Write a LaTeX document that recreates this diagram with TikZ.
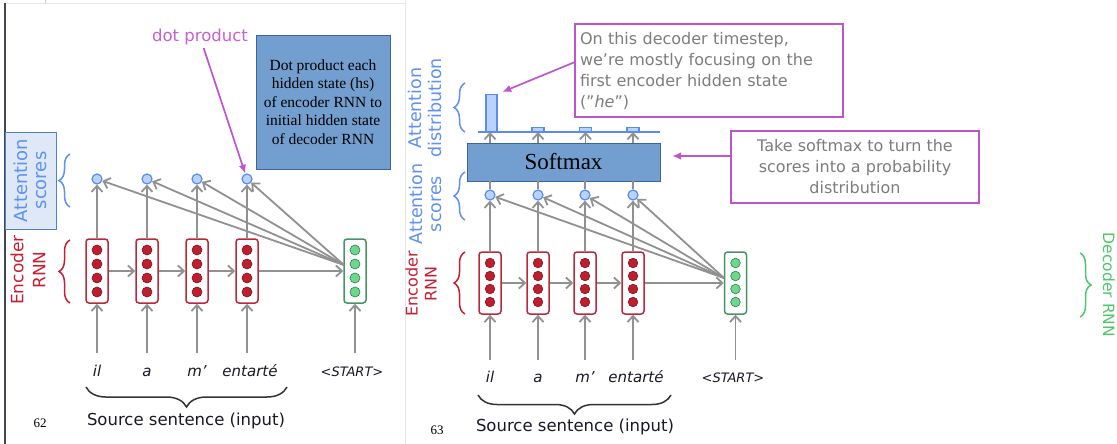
\documentclass[tikz,border=0pt]{standalone}
\usepackage{fontspec}
\setmainfont{Liberation Serif}
\newfontfamily\dvs{DejaVu Sans}
\usetikzlibrary{arrows.meta,decorations.pathreplacing,calc}
\definecolor{cgray}{RGB}{145,145,145}
\definecolor{encred}{RGB}{185,40,60}
\definecolor{dotred}{RGB}{190,30,45}
\definecolor{dotredb}{RGB}{120,20,30}
\definecolor{decgreen}{RGB}{70,150,100}
\definecolor{dotgreen}{RGB}{110,215,140}
\definecolor{dotgreenb}{RGB}{40,130,70}
\definecolor{scblue}{RGB}{90,140,240}
\definecolor{scfill}{RGB}{185,210,255}
\definecolor{boxblue}{RGB}{114,159,207}
\definecolor{boxblueb}{RGB}{60,100,160}
\definecolor{lblfill}{RGB}{222,232,247}
\definecolor{lblborder}{RGB}{80,130,200}
\definecolor{labblue}{RGB}{95,145,240}
\definecolor{labred}{RGB}{200,30,50}
\definecolor{labgreen}{RGB}{75,200,105}
\definecolor{cmag}{RGB}{190,85,205}
\definecolor{magtext}{RGB}{200,95,210}
\definecolor{calltext}{RGB}{125,125,125}
\definecolor{framedark}{RGB}{70,70,80}
\definecolor{framelight}{RGB}{230,230,230}
\definecolor{wordcol}{RGB}{25,25,40}
\tikzset{
  garrow/.style={draw=cgray, line width=1.8pt, -{Straight Barb[length=6pt,width=11pt,line width=1.8pt]}},
  glink/.style={draw=cgray, line width=1.8pt},
  encbox/.style={draw=encred, line width=1.5pt, rounded corners=3pt, fill=white, minimum width=22pt, minimum height=64pt, inner sep=0pt},
  encboxr/.style={encbox, minimum height=62pt},
  decbox/.style={encbox, draw=decgreen},
  decboxr/.style={encboxr, draw=decgreen},
  rdot/.style={fill=dotred, draw=dotredb, line width=0.6pt},
  gdot/.style={fill=dotgreen, draw=dotgreenb, line width=0.6pt},
  score/.style={circle, draw=scblue, fill=scfill, line width=1.2pt, minimum size=10pt, inner sep=0pt},
  word/.style={text=wordcol, font=\dvs\itshape\fontsize{15}{18}\selectfont, text height=11pt, text depth=3pt, inner sep=0pt, anchor=base},
  brc/.style={decorate, decoration={brace, amplitude=#1}, line width=1.5pt},
  brc/.default=11pt,
  srclabel/.style={text=wordcol, font=\dvs\fontsize{16.5}{20}\selectfont, inner sep=0pt},
  rotlab/.style={rotate=90, align=center, inner sep=0pt},
  marrow/.style={draw=cmag, line width=1.7pt, -{Latex[length=9pt,width=7.5pt]}},
  callout/.style={draw=cmag, line width=1.6pt, fill=white, text=calltext, font=\dvs\fontsize{16}{21}\selectfont},
  bluebox/.style={draw=boxblueb, line width=0.8pt, fill=boxblue, text=black},
  bar/.style={draw=scblue, fill=scfill, line width=1.1pt, anchor=south, inner sep=0pt}
}
\begin{document}
\begin{tikzpicture}[x=1pt,y=-1pt]
\useasboundingbox (0,0) rectangle (1117,444);
\fill[white] (0,0) rectangle (1117,444);
% frame artefacts
\draw[framelight, line width=0.8pt] (5,3) -- (405,3);
\draw[framelight, line width=0.8pt] (405,0) -- (405,444);
\draw[framelight!70!gray, line width=0.8pt] (45,0) -- (45,3);
\draw[framedark, line width=1.5pt] (5,3) -- (5,444);

% ================= LEFT PANEL =================
\node[rotlab, draw=lblborder, fill=lblfill, line width=0.9pt, minimum width=97pt, minimum height=51pt, text=labblue, font=\dvs\fontsize{18}{19}\selectfont] (lab1) at (30.5,180.5) {Attention\\scores};
\node[rotlab, text=labred, font=\dvs\fontsize{17}{22}\selectfont] (lab2) at (28,270) {Encoder\\RNN};
\draw[brc, draw=labblue] (70,207) -- (70,154);
\draw[brc, draw=labred] (70,303) -- (70,240);

\foreach \i/\x in {1/97,2/147,3/197,4/247}{
  \node[encbox] (e\i) at (\x,271) {};
  \foreach \y in {250,264,278,292} \draw[rdot] (\x,\y) circle (5pt);
  \node[score] (s\i) at (\x,179) {};
}
\node[decbox] (d) at (355,271) {};
\foreach \y in {250,264,278,292} \draw[gdot] (355,\y) circle (5pt);
\coordinate (dc) at (344,265);

\foreach \i in {1,2,3,4} \draw[garrow] (e\i) -- (s\i);
\draw[garrow] (e1) -- (e2);
\draw[garrow] (e2) -- (e3);
\draw[garrow] (e3) -- (e4);
\draw[garrow] (e4) -- (d);
\foreach \i in {1,2,3,4} \draw[garrow] (dc) -- (s\i);

\node[word] (w1) at (97,376) {il};
\node[word] (w2) at (147,376) {a};
\node[word] (w3) at (197,376) {m’};
\node[word] (w4) at (250,376) {entarté};
\node[word, font=\dvs\itshape\fontsize{13}{16}\selectfont] (w5) at (352,376) {<START>};
\foreach \i in {1,2,3} \draw[garrow, shorten <=12pt] (e\i.south |- w\i.north) -- (e\i.south);
\draw[garrow, shorten <=12pt] (e4.south |- w4.north) -- (e4.south);
\draw[garrow, shorten <=12pt] (d.south |- w5.north) -- (d.south);

\draw[brc=20pt, draw=black!80] (287,387) -- (86,387);
\node[srclabel] (src1) at (186,421) {Source sentence (input)};
\node[font=\fontsize{13}{15}\selectfont, inner sep=0pt] (p62) at (40,423) {62};

\node[text=magtext, font=\dvs\fontsize{16.5}{20}\selectfont, inner sep=1pt] (dp) at (200,37) {dot product};
\draw[marrow, shorten <=2pt] (dp) -- (s4);
\node[bluebox, minimum width=134pt, minimum height=134pt, align=center, font=\fontsize{15.5}{18.5}\selectfont] (bb) at (323,102) {Dot product each\\hidden state (hs)\\of encoder RNN to\\initial hidden state\\of decoder RNN};

% ================= RIGHT PANEL =================
\node[rotlab, text=labblue, font=\dvs\fontsize{17.5}{20}\selectfont] (lab3) at (425,108) {Attention\\distribution};
\node[rotlab, text=labblue, font=\dvs\fontsize{17.5}{19}\selectfont] (lab4) at (425,204) {Attention\\scores};
\node[rotlab, text=labred, font=\dvs\fontsize{16}{19}\selectfont] (lab5) at (421,284) {Encoder\\RNN};
\draw[brc, draw=labblue] (465,132) -- (465,83);
\draw[brc, draw=labblue] (465,220) -- (465,172);
\draw[brc, draw=labred] (465,314) -- (465,252);

\foreach \i/\x in {1/490,2/538,3/585,4/633}{
  \node[encboxr] (f\i) at (\x,283) {};
  \foreach \y in {263,276,289,302} \draw[rdot] (\x,\y) circle (4.8pt);
  \node[score] (t\i) at (\x,195) {};
}
\node[decboxr] (rd) at (735.5,283) {};
\foreach \y in {263,276,289,302} \draw[gdot] (735.5,\y) circle (4.8pt);
\coordinate (dc2) at (724,278);

\node[bluebox, minimum width=193pt, minimum height=38pt, font=\fontsize{23}{26}\selectfont] (sm) at (563.5,162) {Softmax};

\foreach \i in {1,2,3,4} \draw[garrow] (f\i) -- (t\i);
\foreach \i in {1,2,3,4} \draw[glink] (t\i) -- (t\i |- sm.south);
\draw[garrow] (f1) -- (f2);
\draw[garrow] (f2) -- (f3);
\draw[garrow] (f3) -- (f4);
\draw[garrow] (f4) -- (rd);
\foreach \i in {1,2,3,4} \draw[garrow] (dc2) -- (t\i);

% attention distribution bars
\node[bar, minimum width=11pt, minimum height=37pt] (b1) at (491.5,132) {};
\node[bar, minimum width=12pt, minimum height=4pt] (b2) at (538,132) {};
\node[bar, minimum width=12pt, minimum height=4pt] (b3) at (585.5,132) {};
\node[bar, minimum width=12pt, minimum height=4pt] (b4) at (633,132) {};
\draw[scblue, line width=1.5pt] (478,132) -- (660,132);
\draw[garrow] (sm.north -| 490,0) -- (490,132);
\foreach \i in {2,3,4} \draw[garrow] (sm.north -| b\i) -- (b\i.south);

\node[word] (v1) at (490,382) {il};
\node[word] (v2) at (538,382) {a};
\node[word] (v3) at (585,382) {m’};
\node[word] (v4) at (636,382) {entarté};
\node[word, font=\dvs\itshape\fontsize{13}{16}\selectfont] (v5) at (733,382) {<START>};
\foreach \i in {1,2,3,4} \draw[garrow, shorten <=11pt] (f\i.south |- v\i.north) -- (f\i.south);
\draw[garrow, shorten <=11pt] (rd.south |- v5.north) -- (rd.south);

\draw[brc=19pt, draw=black!80] (671,395) -- (478,395);
\node[srclabel] (src2) at (575,427) {Source sentence (input)};
\node[font=\fontsize{13}{15}\selectfont, inner sep=0pt] (p63) at (437,430) {63};

% callouts
\node[callout, align=left, text width=258pt, minimum height=93pt, inner sep=5pt] (c1) at (709,70.5) {On this decoder timestep,\\we’re mostly focusing on the\\first encoder hidden state\\(”\textit{he}”)};
\coordinate (c1a) at (575,62);
\draw[marrow, shorten >=5pt] (c1a) -- (b1.north east);

\node[callout, align=center, minimum width=248pt, minimum height=72pt, inner sep=3pt] (c2) at (855,167) {Take softmax to turn the\\scores into a probability\\distribution};
\coordinate (smtip) at (672,156);
\draw[marrow] (c2.west |- smtip) -- (smtip);

% decoder label far right
\node[rotate=-90, text=labgreen, font=\dvs\fontsize{15.5}{18}\selectfont, inner sep=0pt] (lab6) at (1109,285) {Decoder RNN};
\draw[brc, draw=labgreen] (1080,253) -- (1080,317);
\end{tikzpicture}
\end{document}
